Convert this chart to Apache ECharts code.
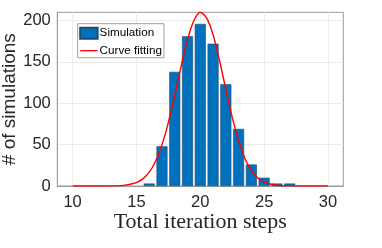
<!DOCTYPE html>
<html>
<head>
<meta charset="utf-8">
<script src="https://cdn.jsdelivr.net/npm/echarts@6/dist/echarts.min.js"></script>
<style>
html,body{margin:0;padding:0;background:#fff;}
#chart{width:382px;height:248px;}
</style>
</head>
<body>
<div id="chart"></div>
<script>
// Histogram bins (total iteration steps) and counts
const steps = [16, 17, 18, 19, 20, 21, 22, 23, 24, 25, 26, 27];
const counts = [3, 48, 138, 181, 196, 172, 123, 69, 26, 10, 3, 3];

// Fitted curve points
const fitX = [10, 11, 12, 13, 14, 15, 15.5, 16, 16.5, 17, 17.5, 18, 18.5, 19, 19.5, 20, 20.5, 21, 21.5, 22, 22.5, 23, 23.5, 24, 24.5, 25, 26, 27, 28, 29, 30];
const fitY = [0, 0, 0, 0.1, 0.7, 4.1, 8.6, 16.7, 30, 50, 77, 110, 145, 177, 200, 210, 203, 183, 152, 117, 83, 55, 33, 19, 9.8, 4.8, 0.9, 0.1, 0, 0, 0];

// Tick labels
const xTicks = [10, 15, 20, 25, 30];
const yTicks = [0, 50, 100, 150, 200];

const barData = steps.map((s, i) => [s, counts[i]]);
const fitData = fitX.map((x, i) => [x, fitY[i]]);

const chart = echarts.init(document.getElementById('chart'), null, {renderer: 'canvas'});
const axisColor = '#9a9a9a';
const labelColor = '#262626';
chart.setOption({
  animation: false,
  backgroundColor: '#ffffff',
  grid: {
    left: 57.3, right: 382 - 343.3, top: 12.3, bottom: 248 - 186,
    containLabel: false, outerBoundsMode: 'none',
    show: true, borderColor: axisColor, borderWidth: 1, backgroundColor: '#ffffff'
  },
  legend: {
    left: 77.7, top: 23.7,
    orient: 'vertical',
    backgroundColor: '#ffffff',
    borderColor: '#a0a0a0', borderWidth: 1,
    padding: [3, 2, 1, 1.5],
    itemWidth: 17.4, itemHeight: 11, itemGap: 5,
    textStyle: {fontFamily: 'Liberation Sans', fontSize: 11.7, color: '#000', padding: [0, 0, 0, -3]},
    data: [
      {name: 'Simulation', icon: 'rect'},
      {name: 'Curve fitting', icon: 'path://M0,0 L40,0 L40,3 L0,3 Z'}
    ]
  },
  xAxis: {
    type: 'value', min: 8.8, max: 31.2,
    name: 'Total iteration steps', nameLocation: 'middle', nameGap: 25, nameMoveOverlap: false,
    nameTextStyle: {fontFamily: 'Liberation Serif', fontSize: 22, color: labelColor},
    axisLine: {show: true, lineStyle: {color: axisColor, width: 1}},
    axisTick: {show: false, customValues: xTicks},
    axisLabel: {customValues: xTicks, fontFamily: 'Liberation Sans', fontSize: 16.5, color: labelColor, margin: 8},
    splitLine: {show: true, lineStyle: {color: '#ebebeb', width: 1}}
  },
  yAxis: {
    type: 'value', min: 0, max: 210,
    name: '# of simulations', nameLocation: 'middle', nameGap: 38, nameRotate: 90, nameMoveOverlap: false,
    nameTextStyle: {fontFamily: 'Liberation Sans', fontSize: 19, color: labelColor},
    axisLine: {show: true, lineStyle: {color: axisColor, width: 1}},
    axisTick: {show: false, customValues: yTicks},
    axisLabel: {customValues: yTicks, fontFamily: 'Liberation Sans', fontSize: 16.5, color: labelColor, margin: 6.5},
    splitLine: {show: true, lineStyle: {color: '#ebebeb', width: 1}}
  },
  series: [
    {
      name: 'Simulation', type: 'bar', data: barData, barWidth: 11,
      itemStyle: {color: '#0072BD', borderColor: '#1c4a75', borderWidth: 0.6}
    },
    {
      name: 'Curve fitting', type: 'line', data: fitData, smooth: 0.3,
      symbol: 'none', lineStyle: {color: '#ff0000', width: 1.4}, itemStyle: {color: '#ff0000'},
      z: 3
    }
  ]
});
</script>
</body>
</html>
